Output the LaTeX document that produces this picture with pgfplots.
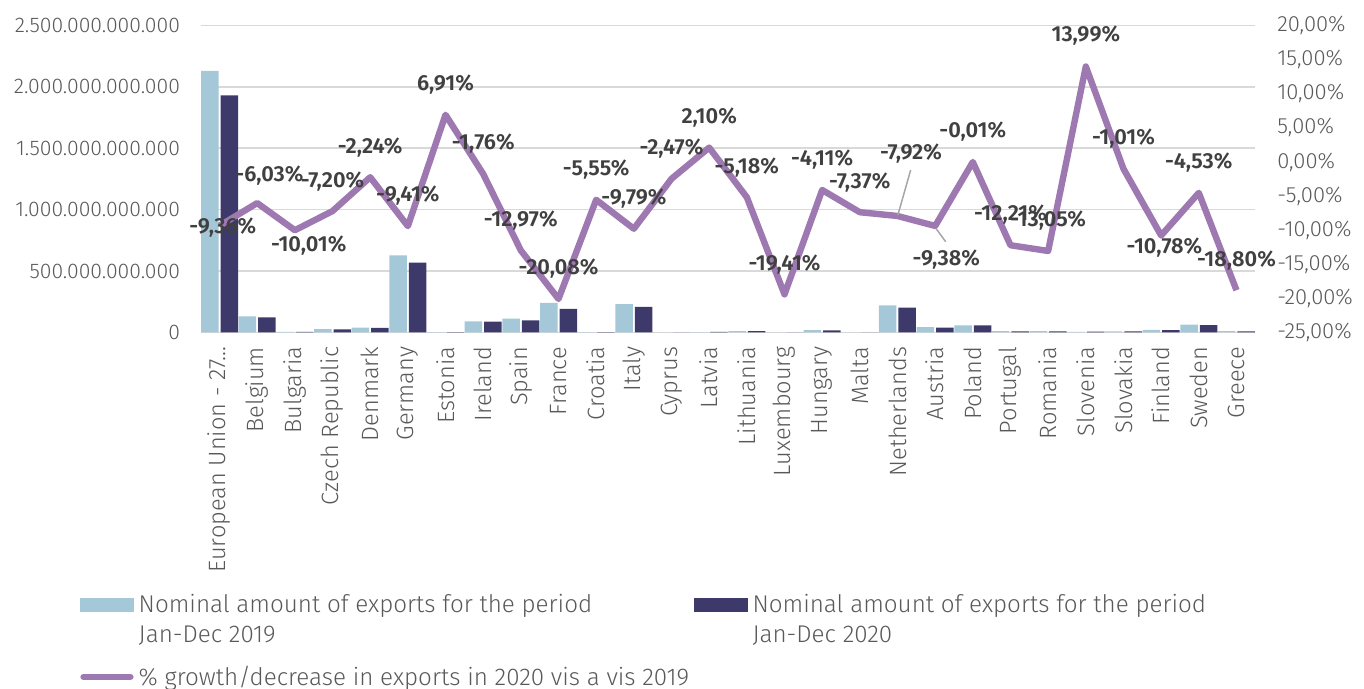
\documentclass[border=0pt]{standalone}
\usepackage{pgfplots}
\pgfplotsset{compat=1.18}
\usepackage{pgfplotstable}
\usepackage{fontspec}
\setmainfont{Fira Sans Light}[BoldFont={Fira Sans SemiBold}]

\definecolor{c19}{HTML}{A5C8D8}
\definecolor{c20}{HTML}{3D3A6B}
\definecolor{cline}{HTML}{9E78B0}
\definecolor{cgrid}{HTML}{D9D9D9}
\definecolor{ctick}{HTML}{595959}
\definecolor{clab}{HTML}{404040}
\definecolor{clead}{HTML}{A6A6A6}

\pgfplotstableread{
x v19 v20
0 2130000000000 1931000000000
1 132000000000 124000000000
2 5000000000 4500000000
3 27000000000 25000000000
4 39000000000 38000000000
5 628000000000 569000000000
6 3000000000 3200000000
7 90000000000 88000000000
8 113000000000 98000000000
9 242000000000 193000000000
10 3000000000 2800000000
11 232000000000 209000000000
12 2000000000 1900000000
13 4000000000 4100000000
14 11000000000 10400000000
15 1500000000 1200000000
16 19000000000 18000000000
17 1500000000 1400000000
18 220000000000 203000000000
19 44000000000 40000000000
20 58000000000 58000000000
21 11000000000 9700000000
22 11000000000 9600000000
23 6000000000 6800000000
24 9000000000 8900000000
25 22000000000 19600000000
26 64000000000 61000000000
27 11000000000 8900000000
}\bars

\pgfplotstableread{
x y dx dy lab
0 -9.36 1.6 -0.85 -9,36
1 -6.03 6.15 13.6 -6,03
2 -10.01 6.95 -7.55 -10,01
3 -7.20 0 14.65 -7,20
4 -2.24 0 15 -2,24
5 -9.41 0 15.3 -9,41
6 6.91 0 15.3 6,91
7 -1.76 0 15 -1,76
8 -12.97 0 15 -12,97
9 -20.08 0 15 -20,08
10 -5.55 0 15 -5,55
11 -9.79 0 15 -9,79
12 -2.47 0 15 -2,47
13 2.10 0 15 2,10
14 -5.18 0 15 -5,18
15 -19.41 0 15 -19,41
16 -4.11 0 15 -4,11
17 -7.37 0 15 -7,37
18 -7.92 6.75 31.05 -7,92
19 -9.38 5.55 -17.05 -9,38
20 -0.01 0 15 -0,01
21 -12.21 0 15.3 -12,21
22 -13.05 0 15 -13,05
23 13.99 0 15.3 13,99
24 -1.01 0 15 -1,01
25 -10.78 1.65 -6.15 -10,78
26 -4.53 0 15 -4,53
27 -18.80 0 15 -18,80
}\growth

\begin{document}
\begin{tikzpicture}
\begin{axis}[
  name=main,
  scale only axis,
  width=527.3pt, height=153.5pt,
  xmin=-0.5, xmax=27.5,
  ymin=0, ymax=2.5e12,
  axis line style={draw=none},
  ymajorgrids,
  grid style={cgrid, line width=0.8pt},
  major tick length=0pt,
  xtick={0,...,27},
  xticklabels={European Union - 27…\hspace{-5.5pt}, Belgium, Bulgaria, Czech Republic, Denmark, Germany, Estonia, Ireland, Spain, France, Croatia, Italy, Cyprus, Latvia, Lithuania, Luxembourg, Hungary, Malta, Netherlands, Austria, Poland, Portugal, Romania, Slovenia, Slovakia, Finland, Sweden, Greece},
  x tick label style={rotate=90, anchor=east, inner xsep=7pt, font=\fontsize{11.8}{14}\selectfont, text=ctick},
  ytick={0,5e11,1e12,1.5e12,2e12,2.5e12},
  yticklabels={0,500.000.000.000,1.000.000.000.000,1.500.000.000.000,2.000.000.000.000,2.500.000.000.000},
  y tick label style={font=\fontsize{10.6}{12}\selectfont, text=ctick, anchor=east, xshift=-6.85pt},
  scaled y ticks=false,
  ybar=1pt, bar width=8.75pt,
]
\addplot[fill=c19, draw=none] table[x=x, y=v19]{\bars};
\addplot[fill=c20, draw=none] table[x=x, y=v20]{\bars};
\end{axis}

\begin{axis}[
  scale only axis,
  width=527.3pt, height=153.5pt,
  xmin=-0.5, xmax=27.5,
  ymin=-25, ymax=20,
  hide x axis,
  axis y line*=right,
  axis line style={draw=none},
  major tick length=0pt,
  ytick={-25,-20,-15,-10,-5,0,5,10,15,20},
  yticklabels={{-25,00\%},{-20,00\%},{-15,00\%},{-10,00\%},{-5,00\%},{0,00\%},{5,00\%},{10,00\%},{15,00\%},{20,00\%}},
  y tick label style={font=\fontsize{11}{13}\selectfont, text=ctick, anchor=west, xshift=7.45pt},
  legend style={draw=none, fill=none, inner sep=0pt, outer sep=0pt,
    at={(axis description cs:-0.1145,-0.8404)}, anchor=north west,
    nodes={inner xsep=2.5pt, inner ysep=2pt},
    column sep=0pt, row sep=21pt,
    font=\fontsize{12.1}{14.8}\selectfont, text=ctick},
  legend columns=2,
  legend cell align=left,
]
\addlegendimage{legend image code/.code={\fill[c19] (0pt,-2.9pt) rectangle (26.5pt,3.45pt);}}
\addlegendimage{legend image code/.code={\fill[c20] (0pt,-2.9pt) rectangle (26.5pt,3.45pt);}}
\addplot[cline, line width=3.2pt, line join=round,
  legend image code/.code={\draw[cline, line width=3.2pt, line cap=round] (1.6pt,0pt) -- (25pt,0pt);},
] table[x=x, y=y]{\growth};
\addplot[forget plot, draw=none, mark=none,
  point meta=explicit symbolic,
  visualization depends on={\thisrow{dx} \as \dx},
  visualization depends on={\thisrow{dy} \as \dy},
  nodes near coords={\pgfplotspointmeta\%},
  every node near coord/.append style={anchor=center, xshift=\dx pt, yshift=\dy pt,
    font=\bfseries\fontsize{10.9}{13}\selectfont, text=clab, inner sep=0pt},
] table[x=x, y=y, meta=lab]{\growth};
\addplot[forget plot, clead, line width=0.75pt] coordinates {(18.01,-7.78) (18.35,-1.18)};
\addplot[forget plot, clead, line width=0.75pt] coordinates {(19.02,-9.73) (19.28,-11.70)};
\legend{{\parbox[t]{275pt}{Nominal amount of exports for the period\\Jan-Dec 2019}},
        {\parbox[t]{275pt}{Nominal amount of exports for the period\\Jan-Dec 2020}},
        {\makebox[275pt][l]{\% growth/decrease in exports in 2020 vis a vis 2019}}}
\end{axis}
\pgfresetboundingbox
\path[use as bounding box] ([xshift=-100.35pt,yshift=-178.25pt]main.south west) rectangle ([xshift=54.35pt,yshift=12.75pt]main.north east);
\end{tikzpicture}
\end{document}
